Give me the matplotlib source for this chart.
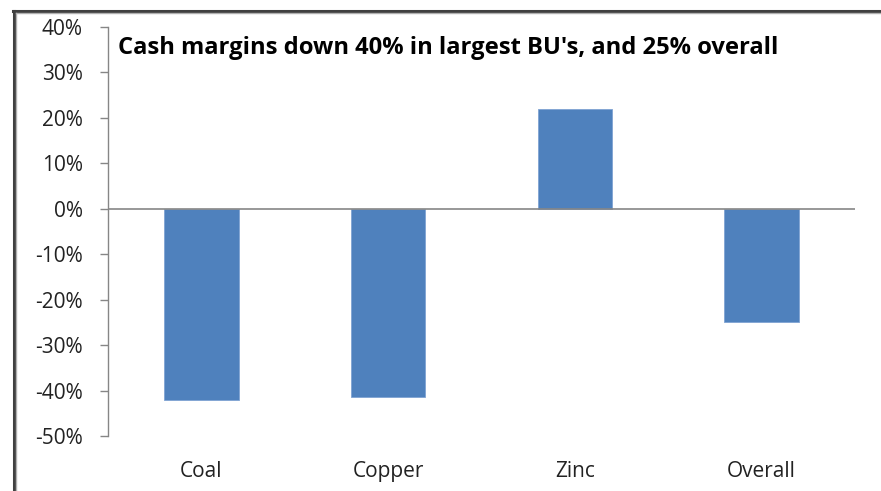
import matplotlib
matplotlib.use("Agg")
import matplotlib.pyplot as plt
from matplotlib.lines import Line2D
from matplotlib.ticker import FuncFormatter

categories = ["Coal", "Copper", "Zinc", "Overall"]
values = [-42.0, -41.5, 22.0, -25.0]
yticks = [-50, -40, -30, -20, -10, 0, 10, 20, 30, 40]
title = "Cash margins down 40% in largest BU's, and 25% overall"

W, H = 881, 491
fig = plt.figure(figsize=(W / 100, H / 100), dpi=100)
ax = fig.add_axes([108 / W, 1 - 436 / H, (855 - 108) / W, (436 - 27) / H])

x = list(range(len(categories)))
ax.bar(x, values, width=0.40, color="#4F81BD", edgecolor="#7FA3D3", linewidth=0.6, zorder=2)
ax.set_xlim(-0.5, len(categories) - 0.5)
ax.set_ylim(-50, 40)
ax.set_yticks(yticks)
ax.yaxis.set_major_formatter(FuncFormatter(lambda v, p: f"{int(v)}%"))
ax.axhline(0, color="#868686", linewidth=1.2, zorder=3)

for s in ["top", "right", "bottom"]:
    ax.spines[s].set_visible(False)
ax.spines["left"].set_color("#868686")
ax.spines["left"].set_linewidth(1.0)
ax.tick_params(axis="y", length=6, width=1.0, color="#868686", pad=12,
               labelsize=15, labelcolor="#222222")
ax.set_xticks(x)
ax.set_xticklabels(categories)
ax.tick_params(axis="x", length=0, pad=18, labelsize=15, labelcolor="#222222")
for lab in ax.get_xticklabels() + ax.get_yticklabels():
    lab.set_fontfamily("Open Sans")

fig.text(118 / W, 1 - 48 / H, title, fontsize=17.1, fontweight="bold",
         fontfamily="Open Sans", va="center", ha="left", color="#000000")

# outer frame (top and left edges)
fig.add_artist(Line2D([13 / W, 1], [1 - 11 / H, 1 - 11 / H], transform=fig.transFigure,
                      color="#404040", linewidth=2.2))
fig.add_artist(Line2D([14 / W, 14 / W], [0, 1 - 11 / H], transform=fig.transFigure,
                      color="#404040", linewidth=2.2))
fig.add_artist(Line2D([16 / W, 1], [1 - 13 / H, 1 - 13 / H], transform=fig.transFigure,
                      color="#B0B0B0", linewidth=1.0))
fig.add_artist(Line2D([16 / W, 16 / W], [0, 1 - 13 / H], transform=fig.transFigure,
                      color="#B0B0B0", linewidth=1.0))

fig.savefig("out.png", dpi=100)
